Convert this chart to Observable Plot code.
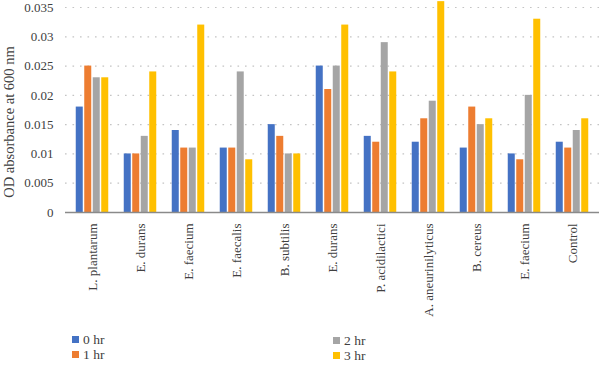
<!DOCTYPE html>
<html>
<head>
<meta charset="utf-8">
<script src="https://cdn.jsdelivr.net/npm/d3@7"></script>
<script src="https://cdn.jsdelivr.net/npm/@observablehq/plot@0.6"></script>
<style>
  html, body { margin: 0; padding: 0; background: #fff; }
  #wrap { position: relative; width: 600px; height: 365px; font-family: Tinos, "Liberation Serif", serif; }
  .leg { position: absolute; display: flex; align-items: center; font-size: 13.5px; color: #404040; line-height: 1; font-family: Tinos, "Liberation Serif", serif; }
  .sw { width: 7px; height: 7px; margin-right: 4px; }
  svg text { font-family: Tinos, "Liberation Serif", serif; }
</style>
</head>
<body>
<div id="wrap"></div>
<script>
const categories = ["L. plantarum", "E. durans", "E. faecium", "E. faecalis", "B. subtilis", "E. durans", "P. acidilactici", "A. aneurinilyticus", "B. cereus", "E. faecium", "Control"];
const series = ["0 hr", "1 hr", "2 hr", "3 hr"];
const hr0 = [0.018, 0.010, 0.014, 0.011, 0.015, 0.025, 0.013, 0.012, 0.011, 0.010, 0.012];
const hr1 = [0.025, 0.010, 0.011, 0.011, 0.013, 0.021, 0.012, 0.016, 0.018, 0.009, 0.011];
const hr2 = [0.023, 0.013, 0.011, 0.024, 0.010, 0.025, 0.029, 0.019, 0.015, 0.020, 0.014];
const hr3 = [0.023, 0.024, 0.032, 0.009, 0.010, 0.032, 0.024, 0.036, 0.016, 0.033, 0.016];
const yTicks = [0, 0.005, 0.01, 0.015, 0.02, 0.025, 0.03, 0.035];
const yTickLabels = ["0", "0.005", "0.01", "0.015", "0.02", "0.025", "0.03", "0.035"];
const yTitle = "OD absorbance at 600 nm";
const colors = ["#4472C4", "#ED7D31", "#A5A5A5", "#FFC000"];

const values = [hr0, hr1, hr2, hr3];
const rows = categories.flatMap((c, i) => series.map((s, j) => ({i, s, v: values[j][i]})));

const W = 600, H = 330, mL = 65, mR = 1;
const step = (W - mL - mR) / categories.length;
const band = step * 0.7;
const barStep = band / series.length;
const gap = 0.75;

const plot = Plot.plot({
  width: W,
  height: H,
  marginLeft: mL,
  marginRight: mR,
  marginTop: 7,
  marginBottom: 118,
  style: {fontFamily: "Tinos, 'Liberation Serif', serif", fontSize: "13px", color: "#404040", background: "#fff"},
  x: {domain: d3.range(categories.length), paddingInner: 0.3, paddingOuter: 0.15, tickFormat: i => categories[i], tickRotate: -90, tickSize: 0, tickPadding: 11, label: null},
  y: {domain: [0, 0.035], ticks: yTicks, tickFormat: d => yTickLabels[yTicks.indexOf(d)] ?? String(d), tickSize: 0, tickPadding: 12, label: null},
  color: {domain: series, range: colors},
  marks: [
    Plot.ruleY(yTicks.filter(t => t > 0), {stroke: "#c4c4c4", strokeWidth: 1.2, strokeDasharray: "1.6 5.9"}),
    ...series.map((s, j) => Plot.barY(rows.filter(d => d.s === s), {
      x: "i", y: "v", fill: "s",
      insetLeft: j * barStep + gap,
      insetRight: (series.length - 1 - j) * barStep + gap
    })),
    Plot.ruleY([0], {stroke: "#8a8a8a", strokeWidth: 1.5}),
    Plot.text([yTitle], {frameAnchor: "left", text: d => d, rotate: -90, textAnchor: "middle", dx: -52, dy: 12, lineAnchor: "bottom", fontSize: 14.5, fill: "#404040"})
  ]
});

const wrap = document.getElementById("wrap");
wrap.appendChild(plot);

const legPos = [[72, 340], [72, 355], [333, 341], [333, 356]];
series.forEach((s, j) => {
  const d = document.createElement("div");
  d.className = "leg";
  d.style.left = legPos[j][0] + "px";
  d.style.top = (legPos[j][1] - 7) + "px";
  const sw = document.createElement("span");
  sw.className = "sw";
  sw.style.background = colors[j];
  const t = document.createElement("span");
  t.textContent = s;
  d.appendChild(sw);
  d.appendChild(t);
  wrap.appendChild(d);
});
</script>
</body>
</html>
